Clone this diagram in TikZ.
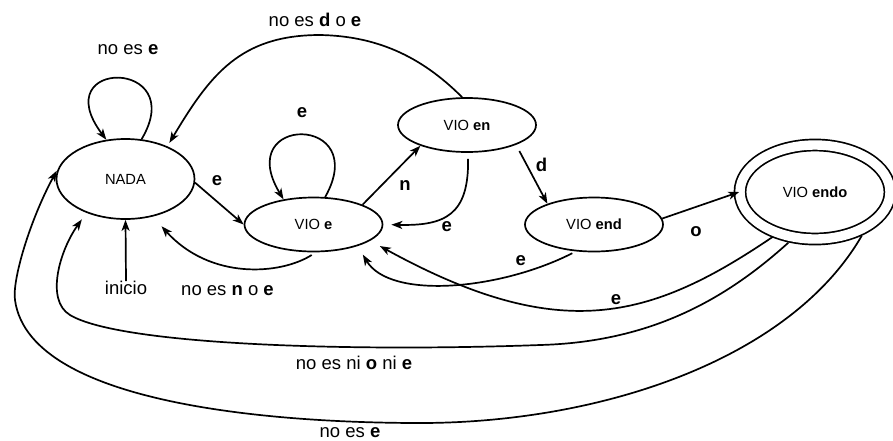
\documentclass[tikz,border=0pt]{standalone}
\usepackage{fontspec}
\setmainfont{Liberation Sans}
\usetikzlibrary{shapes.geometric,arrows.meta}

\begin{document}
\begin{tikzpicture}[x=1pt,y=-1pt,
                    state/.style={ellipse,draw,line width=1.7pt,minimum width=138pt,minimum height=54pt,inner sep=0pt,font=\fontsize{14.7}{17}\selectfont},
                    lbl/.style={inner sep=1pt,font=\fontsize{18.5}{21}\selectfont},
                    trans/.style={line width=1.7pt,-{Stealth[length=11pt,width=8pt,inset=3pt]}}]
                    \useasboundingbox (0,0) rectangle (893,440);

                    \node[state,minimum height=80pt] (NADA node) at (125.5,179) {NADA};
                    \node[state] (VIOe node) at (313.5,224.5) {VIO \textbf{e}};
                    \node[state] (VIOen node) at (467,125) {VIO \textbf{en}};
                    \node[state] (VIOend node) at (594,224.5) {VIO \textbf{end}};
                    \node[state,double,double distance=9.4pt,minimum width=150pt,minimum height=94pt] (VIOendo node) at (815,192) {VIO \textbf{endo}};
                    \node[lbl,inner sep=0pt,anchor=north] (inicio node) at (126,281) {inicio};

                    \node[lbl] (NL node) at (128,50) {no es \textbf{e}};
                    \node[lbl] (EL node) at (302,112.7) {\textbf{e}};
                    \node[lbl] (NE node) at (217,180.5) {\textbf{e}};
                    \node[lbl] (EN node) at (405,186) {\textbf{n}};
                    \node[lbl] (END node) at (541.5,164.7) {\textbf{d}};
                    \node[lbl] (ENE node) at (446.7,226.7) {\textbf{e}};
                    \node[lbl] (ENDO node) at (696,232) {\textbf{o}};
                    \node[lbl] (ENDE node) at (520.7,261) {\textbf{e}};
                    \node[lbl] (ENDOE node) at (616,300) {\textbf{e}};
                    \node[lbl] (EN back) at (315,19.7) {no es \textbf{d} o \textbf{e}};
                    \node[lbl] (E back) at (227.5,291) {no es \textbf{n} o \textbf{e}};
                    \node[lbl] (ENDO back) at (354,363) {no es ni \textbf{o} ni \textbf{e}};
                    \node[lbl,anchor=base] (ENDO reset) at (350,437) {no es \textbf{e}};

                    \draw[trans] (inicio node.north) -- (NADA node.south);
                    \draw[trans] (NADA node.68) .. controls (190,58) and (45,58) .. (NADA node.116);
                    \draw[trans] (VIOe node.67) .. controls (372,114) and (232,114) .. (VIOe node.140);
                    \draw[trans] (NADA node.-3) -- (VIOe node.180);
                    \draw[trans] (VIOe node.22) -- (VIOen node.204);
                    \draw[trans,shorten <=7pt] (VIOen node.-22) -- (VIOend node.156);
                    \draw[trans] (VIOend node.5) -- (VIOendo node.180);
                    \draw[trans,shorten <=6pt,shorten >=8pt] (VIOen node.-88) .. controls (469,215) and (445,226) .. (VIOe node.0);
                    \draw[trans,shorten >=4pt] (VIOen node.100) .. controls (420,55) and (375,36) .. (320,35)
                        .. controls (240,35) and (210,75) .. (NADA node.38);
                    \draw[trans,shorten <=4pt,shorten >=10pt] (VIOend node.236) .. controls (500,290) and (390,300) .. (VIOe node.-26);
                    \draw[trans,shorten <=6pt,shorten >=11pt] (VIOendo node.228) .. controls (650,320) and (560,345) .. (VIOe node.-16);
                    \draw[trans,shorten <=5pt,shorten >=13pt] (VIOe node.-85) .. controls (280,275) and (210,280) .. (NADA node.-54);
                    \draw[trans,shorten <=7pt,shorten >=8pt] (VIOendo node.245) .. controls (725,300) and (650,342) .. (540,345)
                        .. controls (350,352) and (120,345) .. (70,315)
                        .. controls (45,300) and (60,250) .. (NADA node.221);
                    \draw[trans,shorten <=10pt,shorten >=4pt] (VIOendo node.-34) .. controls (790,360) and (600,423) .. (420,423)
                        .. controls (300,423) and (30,410) .. (15,300)
                        .. controls (12,280) and (30,220) .. (NADA node.170);

                \end{tikzpicture}
\end{document}
